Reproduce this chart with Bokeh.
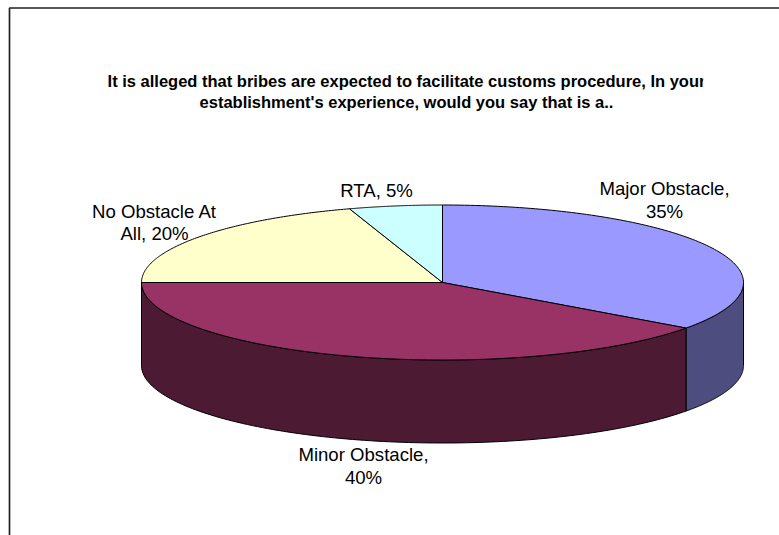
import numpy as np
from bokeh.core.properties import value
from bokeh.embed import file_html
from bokeh.models import ColumnDataSource, Range1d
from bokeh.plotting import figure
from bokeh.resources import INLINE

# Survey shares, clockwise from twelve o'clock
categories = ["Major Obstacle", "Minor Obstacle", "No Obstacle At All", "RTA"]
shares = [35, 40, 20, 5]
top_colors = ["#9999FF", "#993366", "#FFFFCC", "#CCFFFF"]
side_colors = ["#4D4D80", "#4D1A33", "#80806A", "#6A8080"]

title_lines = [
    "It is alleged that bribes are expected to facilitate customs procedure, In your",
    "establishment's experience, would you say that is a..",
]
label_lines = [
    ("Major Obstacle,", 664, 188), ("35%", 664, 211),
    ("Minor Obstacle,", 363, 454), ("40%", 363, 477),
    ("No Obstacle At", 154, 211), ("All, 20%", 154, 233),
    ("RTA, 5%", 376, 190),
]

# Ellipse geometry of the tilted pie, in page pixels
CX, CY, RX, RY, DEPTH = 442.0, 282.0, 301.0, 77.5, 83.0


def rim(a0, a1, n=120):
    t = np.radians(np.linspace(a0, a1, n))
    return CX + RX * np.sin(t), CY - RY * np.cos(t)


p = figure(width=779, height=535, output_backend="svg", toolbar_location=None,
           x_range=Range1d(0, 779), y_range=Range1d(535, 0), min_border=0,
           x_axis_type=None, y_axis_type=None, outline_line_color=None,
           background_fill_color="white", border_fill_color="white")
p.grid.visible = False

# Outer chart frame, running off the right and bottom of the page
p.line([9, 9, 779], [535, 7.5, 7.5], line_color="#222222", line_width=1.7)

edges = np.cumsum([0] + shares) * 3.6

# Side wall: only the part of each slice on the front half of the pie shows
for a0, a1, col in zip(edges[:-1], edges[1:], side_colors):
    lo, hi = max(a0, 90.0), min(a1, 270.0)
    if lo >= hi:
        continue
    x, y = rim(lo, hi)
    xs = np.concatenate([x, x[::-1]])
    ys = np.concatenate([y, y[::-1] + DEPTH])
    p.patch(xs, ys, fill_color=col, line_color="#000000", line_width=1)

# Top faces
for a0, a1, col in zip(edges[:-1], edges[1:], top_colors):
    x, y = rim(a0, a1)
    p.patch(np.concatenate([[CX], x]), np.concatenate([[CY], y]),
            fill_color=col, line_color="#000000", line_width=1)

font = value("Liberation Sans")
src = ColumnDataSource(dict(
    x=[l[1] for l in label_lines], y=[l[2] for l in label_lines],
    t=[l[0] for l in label_lines]))
p.text("x", "y", text="t", source=src, text_font=font, text_font_size="18.6px",
       text_align="center", text_baseline="middle", text_color="#000000")

p.text([406, 406], [80, 101], text=title_lines, text_font=font,
       text_font_size="16.5px", text_font_style="bold", text_align="center",
       text_baseline="middle", text_color="#000000")
# The first title line is cut at the edge of its box
p.quad(left=[702.7], right=[730], top=[70], bottom=[90], fill_color="white", line_color=None)

open("out.html", "w").write(file_html(p, INLINE))
